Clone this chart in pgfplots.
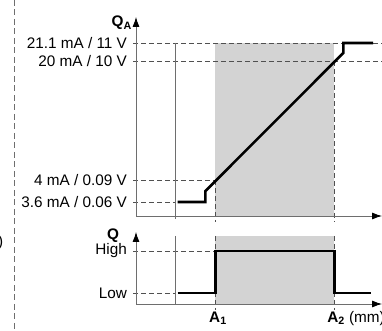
\documentclass[border=0pt]{standalone}
\usepackage{fontspec}
\setmainfont{Liberation Sans}
\usepackage{pgfplots}
\pgfplotsset{compat=1.18}
\usetikzlibrary{arrows.meta}
\definecolor{shade}{HTML}{D3D3D3}
\definecolor{axgray}{HTML}{6E6E6E}
\definecolor{dashgray}{HTML}{505050}
\begin{document}
\begin{tikzpicture}[x=1pt,y=1pt,font=\fontsize{15.3}{18}\selectfont]
\useasboundingbox (0,0) rectangle (382,331);
\draw[axgray, line width=0.9pt, dash pattern=on 6pt off 3.5pt] (14,331) -- (14,0);
\node[anchor=east, inner sep=0pt] at (3.5,88) {)};
\pgfplotsset{myaxis/.style={
  scale only axis, width=246pt, xmin=0, xmax=124, enlargelimits=false,
  axis x line=bottom, axis y line=left, axis on top,
  axis line style={axgray, line width=0.8pt},
  x axis line style={-{Latex[length=10pt,width=7pt,color=black]}},
  y axis line style={-{Latex[length=10pt,width=7pt,color=black]}},
  xtick=\empty, ytick=\empty, clip=false,
  anchor=south west,
}}
\tikzset{dsh/.style={dashgray, line width=0.8pt, dash pattern=on 5pt off 3pt}}
% ---------- top axis ----------
\begin{axis}[myaxis, at={(136pt,115pt)}, height=199pt, ymin=0, ymax=199]
\addplot[fill=shade, draw=none] coordinates {(40,0) (40,173) (100,173) (100,0)} -- cycle;
\addplot[dsh] coordinates {(-1.5,173) (124,173)};
\addplot[dsh] coordinates {(-1.5,155) (124,155)};
\addplot[dsh] coordinates {(-1.5,36) (40,36)};
\addplot[dsh] coordinates {(-1.5,14) (20,14)};
\addplot[dsh] coordinates {(40,36) (40,-6)};
\addplot[dsh] coordinates {(100,155) (100,-6)};
\addplot[axgray, line width=0.8pt] coordinates {(20,173) (20,-3)};
\addplot[black, line width=2.6pt] coordinates {(21,14) (35,14) (35,25) (104.5,163) (104.5,173) (119.5,173)};
\node[anchor=east, inner sep=0pt] at (axis cs:-4.5,173) {21.1 mA / 11 V};
\node[anchor=east, inner sep=0pt] at (axis cs:-4.5,155) {20 mA / 10 V};
\node[anchor=east, inner sep=0pt] at (axis cs:-4.5,36) {4 mA / 0.09 V};
\node[anchor=east, inner sep=0pt] at (axis cs:-4.5,14) {3.6 mA / 0.06 V};
\node[anchor=base east, inner sep=0pt] at (axis cs:-2,189) {\bfseries Q\textsubscript{A}};
\end{axis}
% ---------- bottom axis ----------
\begin{axis}[myaxis, at={(136pt,27pt)}, height=72pt, ymin=0, ymax=72]
\addplot[fill=shade, draw=none] coordinates {(40,0) (40,68) (100,68) (100,0)} -- cycle;
\addplot[dsh] coordinates {(-1.5,53) (40,53)};
\addplot[dsh] coordinates {(-1.5,11) (20,11)};
\addplot[dsh] coordinates {(40,68) (40,-6)};
\addplot[dsh] coordinates {(100,68) (100,-6)};
\addplot[axgray, line width=0.8pt] coordinates {(20,68) (20,0)};
\addplot[black, line width=2.6pt] coordinates {(21,11) (40,11) (40,53) (100,53) (100,11) (118.5,11)};
\node[anchor=east, inner sep=0pt] at (axis cs:-4.5,53) {High};
\node[anchor=east, inner sep=0pt] at (axis cs:-4.5,11) {Low};
\node[anchor=base, inner sep=0pt] at (axis cs:-11.6,64.5) {\bfseries Q};
\node[anchor=base west, inner sep=0pt] at (axis cs:36.8,-18) {\bfseries A\textsubscript{1}};
\node[anchor=base west, inner sep=0pt] at (axis cs:96.3,-18) {\bfseries A\textsubscript{2}\mdseries\ (mm)};
\end{axis}
\end{tikzpicture}
\end{document}
